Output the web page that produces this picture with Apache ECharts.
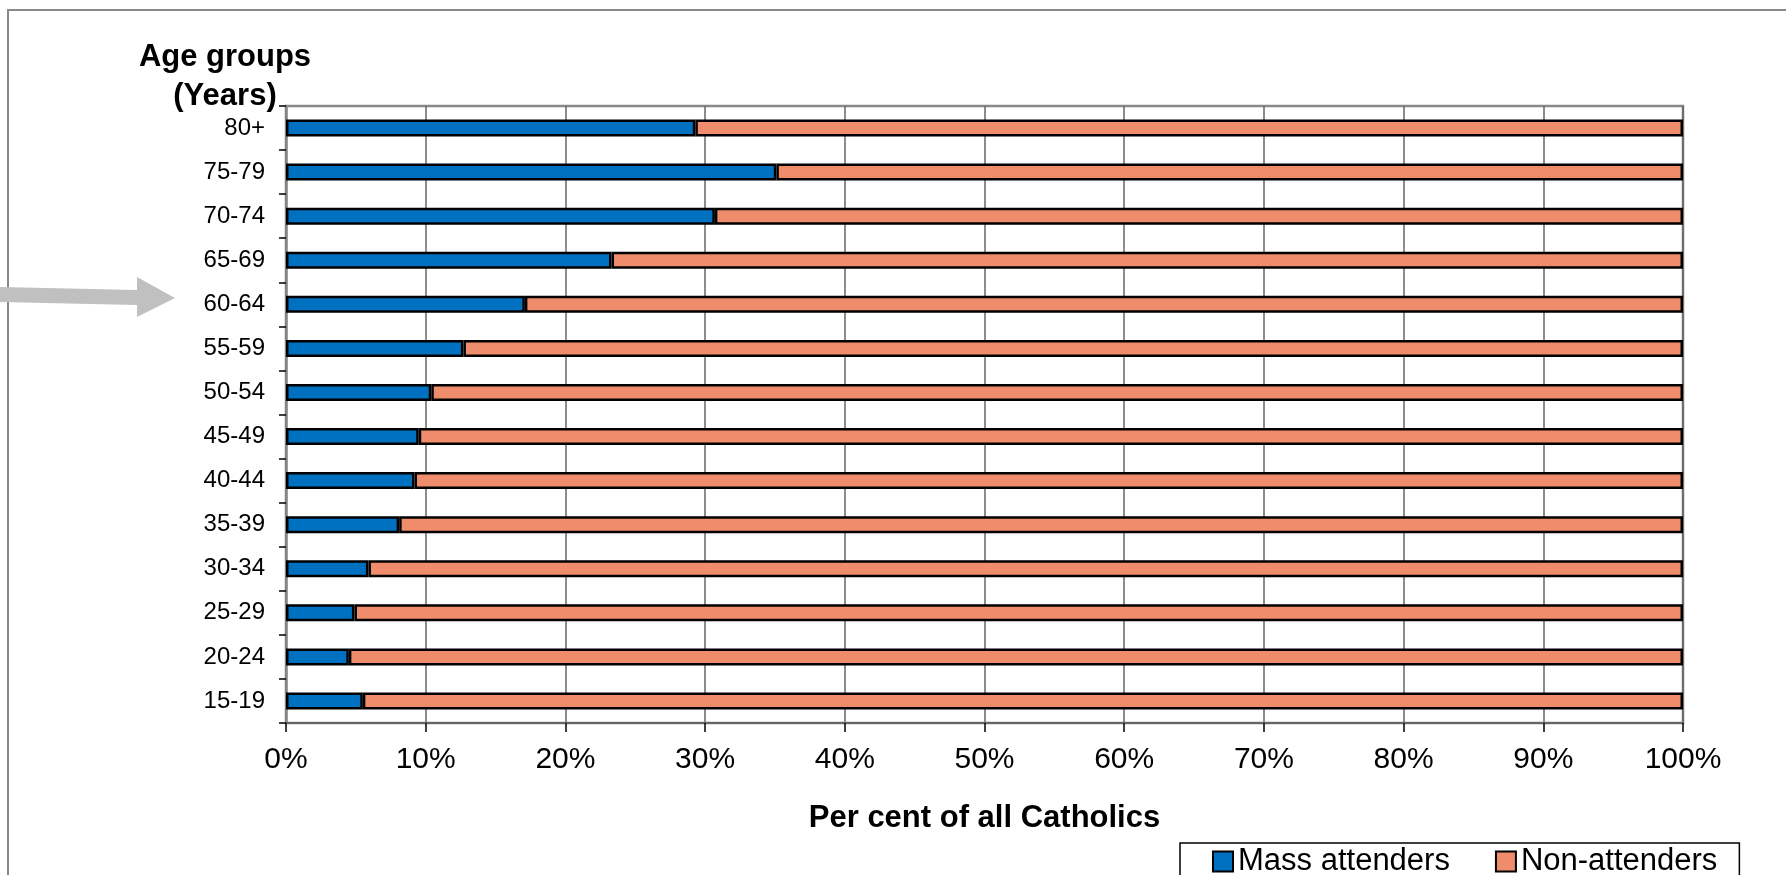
<!DOCTYPE html>
<html><head><meta charset="utf-8">
<script src="https://cdn.jsdelivr.net/npm/echarts@6/dist/echarts.min.js"></script>
<style>html,body{margin:0;padding:0;background:#fff}#c{width:1786px;height:875px}</style>
</head><body><div id="c"></div>
<script>
const categories = ['15-19','20-24','25-29','30-34','35-39','40-44','45-49','50-54','55-59','60-64','65-69','70-74','75-79','80+'];
const massAttenders = [5.5, 4.5, 4.9, 5.9, 8.1, 9.2, 9.5, 10.4, 12.7, 17.1, 23.3, 30.7, 35.1, 29.3];
const nonAttenders = massAttenders.map(v => +(100 - v).toFixed(1));
const seriesNames = ['Mass attenders', 'Non-attenders'];

const FONT = 'Liberation Sans, Arial, sans-serif';
const chart = echarts.init(document.getElementById('c'));
chart.setOption({
  animation: false,
  backgroundColor: '#fff',
  textStyle: {fontFamily: FONT},
  grid: {left: 286, right: 103, top: 106, bottom: 152, show: true, borderColor: '#888', borderWidth: 2.5},
  xAxis: {
    type: 'value', min: 0, max: 100, interval: 10,
    axisLabel: {formatter: '{value}%', fontSize: 30, color: '#000', margin: 22},
    axisLine: {show: true, lineStyle: {color: '#666', width: 2}},
    axisTick: {show: true, length: 9, lineStyle: {color: '#000', width: 1.5}},
    splitLine: {show: true, lineStyle: {color: '#666', width: 1.5}},
    name: 'Per cent of all Catholics', nameLocation: 'middle', nameGap: 80,
    nameTextStyle: {fontSize: 31, fontWeight: 'bold', color: '#000'}
  },
  yAxis: {
    type: 'category', data: categories,
    axisLabel: {fontSize: 24, color: '#000', margin: 21},
    axisLine: {show: true, lineStyle: {color: '#888', width: 2.5}},
    axisTick: {show: true, length: 7, lineStyle: {color: '#000', width: 1.5}},
    splitLine: {show: false}
  },
  legend: {
    left: 1180, top: 843, itemGap: 45, itemWidth: 20, itemHeight: 20,
    padding: [3, 22, 8, 32], borderColor: '#000', borderWidth: 1.5,
    textStyle: {fontSize: 31, color: '#000'},
    data: seriesNames.map(n => ({name: n, icon: 'rect'}))
  },
  graphic: [
    {type: 'rect', shape: {x: 8, y: 10, width: 1800, height: 900}, style: {fill: 'none', stroke: '#888', lineWidth: 2}, z: 0},
    {type: 'polygon', shape: {points: [[0,287],[137,290],[137,277],[175,298],[137,317],[137,305],[0,302]]}, style: {fill: '#c0c0c0'}},
    {type: 'text', x: 225, y: 57, style: {text: 'Age groups', font: 'bold 31px ' + FONT, fill: '#000', align: 'center', verticalAlign: 'middle'}},
    {type: 'text', x: 225, y: 96, style: {text: '(Years)', font: 'bold 31px ' + FONT, fill: '#000', align: 'center', verticalAlign: 'middle'}}
  ],
  series: [
    {name: seriesNames[0], type: 'bar', stack: 'a', data: massAttenders, barWidth: 17,
     itemStyle: {color: '#0070c0', borderColor: '#000', borderWidth: 2.5}},
    {name: seriesNames[1], type: 'bar', stack: 'a', data: nonAttenders, barWidth: 17,
     itemStyle: {color: '#ef8c6b', borderColor: '#000', borderWidth: 2.5}}
  ]
});
</script></body></html>
